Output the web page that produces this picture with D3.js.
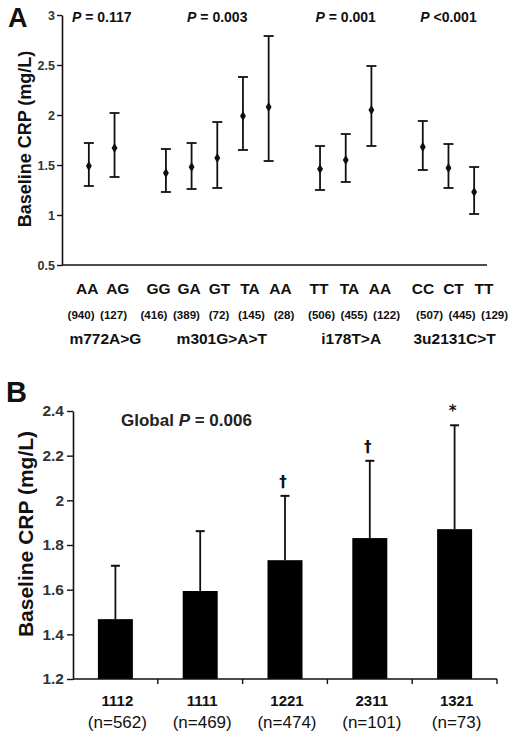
<!DOCTYPE html>
<html>
<head>
<meta charset="utf-8">
<script src="https://cdn.jsdelivr.net/npm/d3@7"></script>
<style>
  html, body { margin: 0; padding: 0; background: #fff; }
  svg { display: block; font-family: "Liberation Sans", Arial, sans-serif; }
</style>
</head>
<body>
<svg id="chart" width="516" height="755"></svg>
<script>
// ---------- Panel A data ----------
const groupsA = ["m772A>G", "m301G>A>T", "i178T>A", "3u2131C>T"];
const pValuesA = ["= 0.117", "= 0.003", "= 0.001", "<0.001"];
const genotypeGroupA = [0, 0, 1, 1, 1, 1, 1, 2, 2, 2, 3, 3, 3];
const genotypesA = ["AA", "AG", "GG", "GA", "GT", "TA", "AA", "TT", "TA", "AA", "CC", "CT", "TT"];
const countsA = ["(940)", "(127)", "(416)", "(389)", "(72)", "(145)", "(28)", "(506)", "(455)", "(122)", "(507)", "(445)", "(129)"];
const meansA = [1.49, 1.67, 1.42, 1.48, 1.57, 1.99, 2.08, 1.46, 1.55, 2.05, 1.68, 1.47, 1.23];
const lowerA = [1.29, 1.38, 1.23, 1.26, 1.27, 1.65, 1.54, 1.25, 1.33, 1.69, 1.45, 1.27, 1.01];
const upperA = [1.72, 2.02, 1.66, 1.72, 1.93, 2.38, 2.79, 1.69, 1.81, 2.49, 1.94, 1.71, 1.48];
const yTicksA = [0.5, 1, 1.5, 2, 2.5, 3];

// ---------- Panel B data ----------
const haplotypesB = ["1112", "1111", "1221", "2311", "1321"];
const countsB = ["(n=562)", "(n=469)", "(n=474)", "(n=101)", "(n=73)"];
const meansB = [1.468, 1.594, 1.732, 1.831, 1.871];
const upperB = [1.707, 1.862, 2.020, 2.177, 2.336];
const marksB = ["", "", "\u2020", "\u2020", "*"];
const yTicksB = [1.2, 1.4, 1.6, 1.8, 2.0, 2.2, 2.4];
const globalP = "= 0.006";

const svg = d3.select("#chart");
const ink = "#111";
const tickInk = "#333";

// ================= PANEL A =================
const slotKeys = [];
const slotOfGenotype = [];
genotypesA.forEach((g, i) => {
  if (i > 0 && genotypeGroupA[i] !== genotypeGroupA[i - 1]) slotKeys.push("gap" + i);
  slotOfGenotype.push("s" + i);
  slotKeys.push("s" + i);
});

const axA = { left: 62, right: 487, top: 15, bottom: 265 };
const xA = d3.scaleBand().domain(slotKeys).range([76, axA.right]).padding(0);
const yA = d3.scaleLinear().domain([0.5, 3]).range([axA.bottom, axA.top]);
const cx = i => xA(slotOfGenotype[i]) + xA.bandwidth() / 2;

const gA = svg.append("g");

const yAxisA = d3.axisLeft(yA).tickValues(yTicksA).tickSize(5).tickSizeOuter(0)
  .tickFormat(d => d3.format("")(d));
const gyA = gA.append("g").attr("transform", `translate(${axA.left},0)`).call(yAxisA);
gyA.select(".domain").attr("stroke", ink).attr("stroke-width", 1.6);
gyA.selectAll(".tick line").attr("stroke", ink).attr("stroke-width", 1.4);
gyA.selectAll(".tick text").attr("fill", tickInk).attr("font-size", 12.5).attr("font-weight", "bold")
  .attr("font-family", "Liberation Sans, Arial, sans-serif").attr("x", -7);

gA.append("line").attr("x1", axA.left).attr("x2", axA.right)
  .attr("y1", axA.bottom).attr("y2", axA.bottom)
  .attr("stroke", ink).attr("stroke-width", 1.6);

// error bars
const capA = 5;
const eb = gA.append("g").selectAll("g").data(genotypesA).join("g");
eb.append("line").attr("x1", (d, i) => cx(i)).attr("x2", (d, i) => cx(i))
  .attr("y1", (d, i) => yA(upperA[i])).attr("y2", (d, i) => yA(lowerA[i]))
  .attr("stroke", ink).attr("stroke-width", 1.8);
eb.append("line").attr("x1", (d, i) => cx(i) - capA).attr("x2", (d, i) => cx(i) + capA)
  .attr("y1", (d, i) => yA(upperA[i])).attr("y2", (d, i) => yA(upperA[i]))
  .attr("stroke", ink).attr("stroke-width", 1.8);
eb.append("line").attr("x1", (d, i) => cx(i) - capA).attr("x2", (d, i) => cx(i) + capA)
  .attr("y1", (d, i) => yA(lowerA[i])).attr("y2", (d, i) => yA(lowerA[i]))
  .attr("stroke", ink).attr("stroke-width", 1.8);
eb.append("path").attr("d", d3.symbol(d3.symbolDiamond, 30))
  .attr("transform", (d, i) => `translate(${cx(i)},${yA(meansA[i])})`)
  .attr("fill", ink);

// group geometry
const groupMembers = gi => genotypeGroupA.map((g, i) => g === gi ? i : -1).filter(i => i >= 0);
const groupCenter = gi => {
  const idx = groupMembers(gi);
  return (cx(idx[0]) + cx(idx[idx.length - 1])) / 2;
};
const plotMid = (xA.range()[0] + xA.range()[1]) / 2;
// label rows are laid out slightly wider than the plotted points
const labelX = (i, stretch, shift, spacing) => {
  const gi = genotypeGroupA[i];
  const idx = groupMembers(gi);
  const k = idx.indexOf(i);
  const gc = plotMid + (groupCenter(gi) - plotMid) * stretch + shift;
  return gc + (k - (idx.length - 1) / 2) * spacing;
};

gA.append("g").selectAll("text").data(genotypesA).join("text")
  .attr("x", (d, i) => labelX(i, 1.012, 3, 30.5)).attr("y", 294)
  .attr("text-anchor", "middle").attr("font-size", 15.5).attr("font-weight", "bold").attr("fill", ink)
  .text(d => d);
gA.append("g").selectAll("text").data(countsA).join("text")
  .attr("x", (d, i) => labelX(i, 1.052, 5, 32.5)).attr("y", 319)
  .attr("text-anchor", "middle").attr("font-size", 11.6).attr("font-weight", "bold").attr("fill", ink)
  .text(d => d);
gA.append("g").selectAll("text").data(groupsA).join("text")
  .attr("x", (d, i) => plotMid + (groupCenter(i) - plotMid) * 1.007 + 5).attr("y", 344)
  .attr("text-anchor", "middle").attr("font-size", 15.5).attr("font-weight", "bold").attr("fill", ink)
  .text(d => d);

// p values
const pt = gA.append("g").selectAll("text").data(pValuesA).join("text")
  .attr("x", (d, i) => groupCenter(i)).attr("y", 22)
  .attr("text-anchor", "middle").attr("font-size", 14).attr("font-weight", "bold").attr("fill", ink);
pt.append("tspan").attr("font-style", "italic").text("P");
pt.append("tspan").text(d => " " + d);

gA.append("text").attr("transform", `translate(31,139) rotate(-90)`)
  .attr("text-anchor", "middle").attr("font-size", 18).attr("font-weight", "bold").attr("fill", ink)
  .text("Baseline CRP (mg/L)");

gA.append("text").attr("x", 8).attr("y", 27).attr("font-size", 27).attr("font-weight", "bold")
  .attr("fill", ink).text("A");

// ================= PANEL B =================
const axB = { left: 73, right: 497, top: 411, bottom: 679 };
const xB = d3.scaleBand().domain(haplotypesB).range([axB.left, axB.right]).padding(0);
const yB = d3.scaleLinear().domain([1.2, 2.4]).range([axB.bottom, axB.top]);
const barW = 35;
const bcx = d => xB(d) + xB.bandwidth() / 2;

const gB = svg.append("g");

gB.append("g").selectAll("rect").data(haplotypesB).join("rect")
  .attr("x", d => bcx(d) - barW / 2).attr("width", barW)
  .attr("y", (d, i) => yB(meansB[i])).attr("height", (d, i) => yB(1.2) - yB(meansB[i]))
  .attr("fill", "#000");

const ebB = gB.append("g").selectAll("g").data(haplotypesB).join("g");
ebB.append("line").attr("x1", d => bcx(d)).attr("x2", d => bcx(d))
  .attr("y1", (d, i) => yB(upperB[i])).attr("y2", (d, i) => yB(meansB[i]))
  .attr("stroke", ink).attr("stroke-width", 1.8);
ebB.append("line").attr("x1", d => bcx(d) - 4.5).attr("x2", d => bcx(d) + 4.5)
  .attr("y1", (d, i) => yB(upperB[i])).attr("y2", (d, i) => yB(upperB[i]))
  .attr("stroke", ink).attr("stroke-width", 2);
ebB.append("text").attr("x", d => bcx(d) - 2).attr("y", (d, i) => yB(upperB[i]) - 9)
  .attr("text-anchor", "middle").attr("font-size", 15).attr("font-weight", "bold").attr("fill", "#111")
  .attr("font-family", "DejaVu Sans, sans-serif")
  .text((d, i) => marksB[i]);

const yAxisB = d3.axisLeft(yB).tickValues(yTicksB).tickSize(6).tickSizeOuter(0)
  .tickFormat(d => d3.format("")(d));
const gyB = gB.append("g").attr("transform", `translate(${axB.left},0)`).call(yAxisB);
gyB.select(".domain").attr("stroke", ink).attr("stroke-width", 1.6);
gyB.selectAll(".tick line").attr("stroke", ink).attr("stroke-width", 1.4);
gyB.selectAll(".tick text").attr("fill", tickInk).attr("font-size", 15.5).attr("font-weight", "bold")
  .attr("font-family", "Liberation Sans, Arial, sans-serif").attr("x", -9);

gB.append("line").attr("x1", axB.left).attr("x2", axB.right)
  .attr("y1", axB.bottom).attr("y2", axB.bottom)
  .attr("stroke", ink).attr("stroke-width", 1.6);
gB.append("g").selectAll("line").data(haplotypesB).join("line")
  .attr("x1", d => xB(d) + xB.bandwidth()).attr("x2", d => xB(d) + xB.bandwidth())
  .attr("y1", axB.bottom).attr("y2", axB.bottom + 5)
  .attr("stroke", ink).attr("stroke-width", 1.4);

gB.append("g").selectAll("text").data(haplotypesB).join("text")
  .attr("x", d => bcx(d) + 2).attr("y", 706)
  .attr("text-anchor", "middle").attr("font-size", 15).attr("font-weight", "bold").attr("fill", ink)
  .text(d => d);
gB.append("g").selectAll("text").data(countsB).join("text")
  .attr("x", (d, i) => bcx(haplotypesB[i]) + 2).attr("y", 728)
  .attr("text-anchor", "middle").attr("font-size", 17).attr("fill", ink)
  .text(d => d);

const gp = gB.append("text").attr("x", 121).attr("y", 426)
  .attr("font-size", 17).attr("font-weight", "bold").attr("fill", "#222");
gp.append("tspan").text("Global ");
gp.append("tspan").attr("font-style", "italic").text("P");
gp.append("tspan").text(" " + globalP);

gB.append("text").attr("transform", `translate(33,534) rotate(-90)`)
  .attr("text-anchor", "middle").attr("font-size", 21).attr("font-weight", "bold").attr("fill", ink)
  .text("Baseline CRP (mg/L)");

gB.append("text").attr("x", 6).attr("y", 402).attr("font-size", 29).attr("font-weight", "bold")
  .attr("fill", ink).text("B");
</script>
</body>
</html>
